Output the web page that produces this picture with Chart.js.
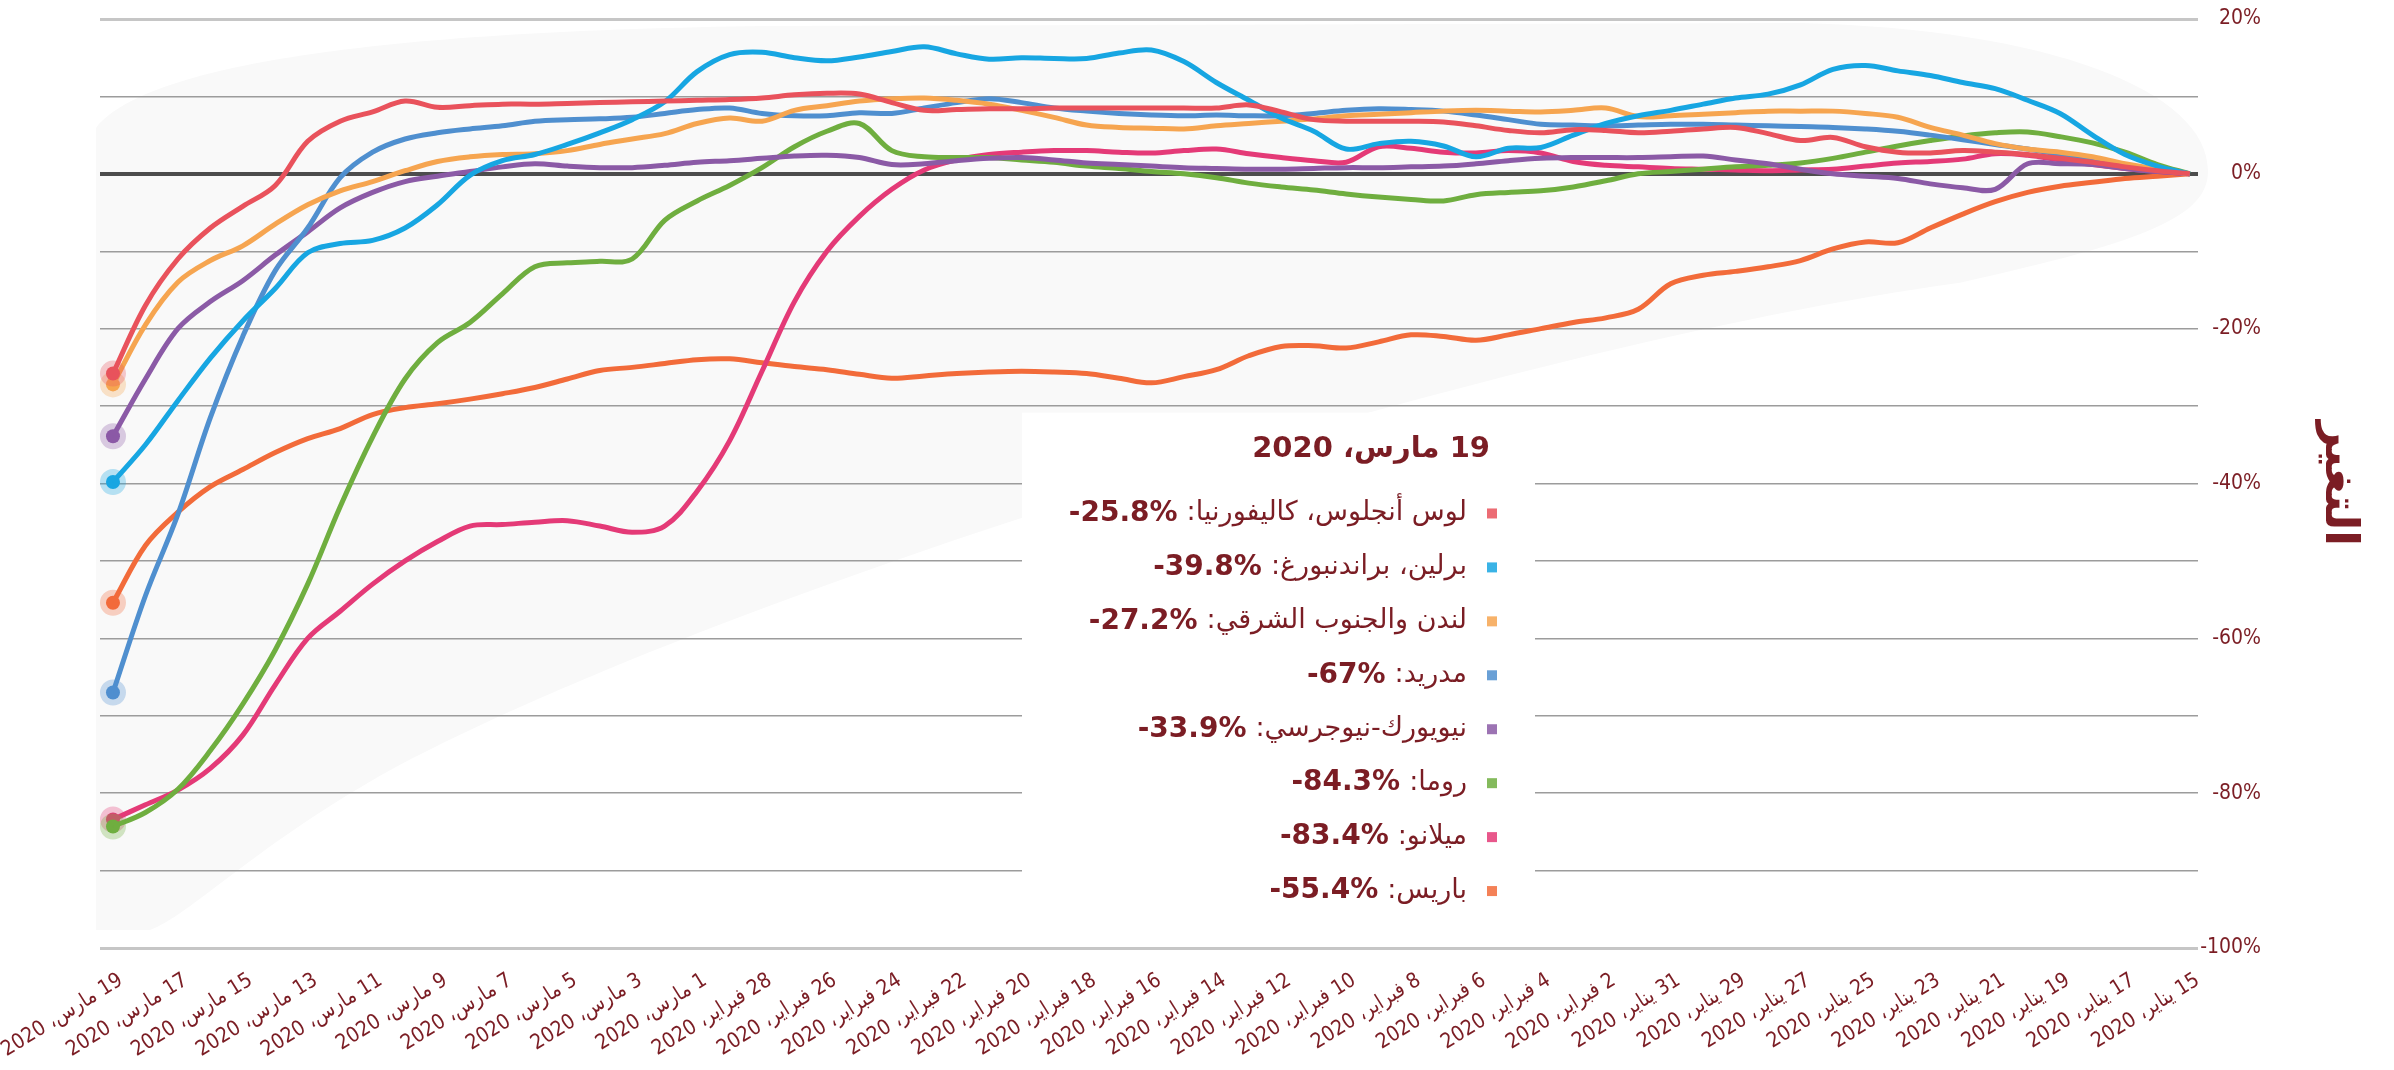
<!DOCTYPE html>
<html><head><meta charset="utf-8">
<script src="https://cdn.jsdelivr.net/npm/chart.js@4.4.1/dist/chart.umd.min.js"></script>
<style>html,body{margin:0;padding:0;background:#fff;}#wrap{width:2394px;height:1070px;}</style>
</head><body><div id="wrap"><canvas id="c" width="2394" height="1070"></canvas></div>
<script>
// Categories, left to right as drawn (19 March back to 15 January 2020)
const dates = [
 '19 مارس، 2020','18 مارس، 2020','17 مارس، 2020','16 مارس، 2020','15 مارس، 2020','14 مارس، 2020','13 مارس، 2020','12 مارس، 2020','11 مارس، 2020','10 مارس، 2020',
 '9 مارس، 2020','8 مارس، 2020','7 مارس، 2020','6 مارس، 2020','5 مارس، 2020','4 مارس، 2020','3 مارس، 2020','2 مارس، 2020','1 مارس، 2020',
 '29 فبراير، 2020','28 فبراير، 2020','27 فبراير، 2020','26 فبراير، 2020','25 فبراير، 2020','24 فبراير، 2020','23 فبراير، 2020','22 فبراير، 2020','21 فبراير، 2020','20 فبراير، 2020',
 '19 فبراير، 2020','18 فبراير، 2020','17 فبراير، 2020','16 فبراير، 2020','15 فبراير، 2020','14 فبراير، 2020','13 فبراير، 2020','12 فبراير، 2020','11 فبراير، 2020','10 فبراير، 2020',
 '9 فبراير، 2020','8 فبراير، 2020','7 فبراير، 2020','6 فبراير، 2020','5 فبراير، 2020','4 فبراير، 2020','3 فبراير، 2020','2 فبراير، 2020','1 فبراير، 2020',
 '31 يناير، 2020','30 يناير، 2020','29 يناير، 2020','28 يناير، 2020','27 يناير، 2020','26 يناير، 2020','25 يناير، 2020','24 يناير، 2020','23 يناير، 2020',
 '22 يناير، 2020','21 يناير، 2020','20 يناير، 2020','19 يناير، 2020','18 يناير، 2020','17 يناير، 2020','16 يناير، 2020','15 يناير، 2020'
];
const tickStep = 2;           // every second date is labelled
const yTickLabelStep = 20;    // y labels every 20%

const seriesNames = ['لوس أنجلوس، كاليفورنيا','برلين، براندنبورغ','لندن والجنوب الشرقي','مدريد','نيويورك-نيوجرسي','روما','ميلانو','باريس'];
const seriesColors = ['#e9525c','#17a6e2','#f6a550','#4f8fcf','#8b5aa6','#6fae3f','#e43a77','#f26b3a'];

const losAngeles = [-25.8,-17,-11,-7,-4.2,-1.5,4.2,6.8,8,9.4, 8.6,8.8,9,9,9.1,9.2,9.3,9.4,9.5,9.6, 9.8,10.2,10.4,10.3,9.2,8.2,8.3,8.4,8.4,8.5, 8.5,8.5,8.5,8.5,8.5,8.9,8,7,6.8,6.8, 6.8,6.7,6.2,5.6,5.3,5.7,5.6,5.3,5.5,5.8, 6,5.2,4.3,4.7,3.5,2.8,2.7,3,2.8,2.5, 2,1.5,0.9,0.4,0];
const berlin = [-39.8,-35,-29.3,-23.8,-19,-14.8,-10.2,-9,-8.6,-7, -4,-0.2,1.7,2.5,3.8,5.3,7,9.3,13.2,15.4, 15.7,15,14.6,15.1,15.8,16.4,15.5,14.8,15,14.9, 14.9,15.6,16,14.5,11.8,9.5,7.2,5.5,3.2,3.9, 4.2,3.6,2.2,3.3,3.4,5,6.5,7.5,8.2,9, 9.8,10.3,11.5,13.5,14,13.3,12.7,11.8,11,9.5, 7.8,5,2.5,1,0];
const london = [-27.2,-19.5,-14,-11.2,-9.3,-6.5,-4,-2.2,-1,0.4, 1.6,2.2,2.5,2.6,3,3.8,4.5,5.2,6.5,7.2, 6.8,8.2,8.8,9.4,9.7,9.8,9.5,9,8.2,7.3, 6.3,6,5.9,5.8,6.2,6.5,6.8,7.1,7.5,7.7, 7.9,8.1,8.2,8.1,8,8.2,8.5,7.4,7.5,7.7, 7.9,8.1,8.1,8.1,7.8,7.3,6,5,3.9,3.2, 2.8,2.2,1.3,0.6,0];
const madrid = [-67,-54.5,-44,-31.5,-21,-12.5,-7,-0.5,2.8,4.5, 5.3,5.8,6.2,6.8,7,7.1,7.3,7.8,8.3,8.5, 7.8,7.5,7.5,7.9,7.8,8.5,9.2,9.7,9.2,8.5, 8.1,7.8,7.6,7.5,7.6,7.5,7.5,7.8,8.2,8.4, 8.3,8.1,7.6,7,6.4,6.3,6.2,6.3,6.4,6.4, 6.3,6.2,6.1,6,5.8,5.5,5,4.4,3.8,3.2, 2.5,1.8,1,0.5,0];
const newYork = [-33.9,-26.5,-20,-16.5,-13.8,-10.5,-7.5,-4.4,-2.4,-1, -0.3,0.3,0.9,1.3,1,0.8,0.8,1.1,1.5,1.7, 2,2.3,2.4,2.1,1.2,1.3,1.7,2,2.1,1.8, 1.4,1.2,1,0.8,0.7,0.6,0.6,0.7,0.8,0.8, 0.9,1,1.3,1.7,2,2.1,2.1,2.1,2.2,2.3, 1.8,1.3,0.6,0,-0.3,-0.6,-1.3,-1.8,-2,1.3, 1.3,1.2,0.7,0.3,0];
const rome = [-84.3,-82.5,-79.5,-74.5,-68.5,-61.5,-53,-43,-34,-26.5, -21.8,-19.2,-15.5,-12,-11.5,-11.3,-11,-6,-3.5,-1.5, 0.8,3.5,5.5,6.5,3,2.2,2.1,2.1,1.8,1.5, 1,0.7,0.3,0,-0.5,-1.2,-1.7,-2.1,-2.6,-3, -3.3,-3.5,-2.7,-2.4,-2.2,-1.7,-0.9,0,0.3,0.6, 0.9,1.1,1.4,2,2.8,3.6,4.3,4.9,5.3,5.4, 4.8,4,2.8,1.2,0];
const milan = [-83.4,-81.5,-79.6,-76.8,-72.5,-66,-60,-56.5,-53,-50, -47.5,-45.5,-45.3,-45,-44.8,-45.5,-46.3,-45.5,-41,-34.5, -25.5,-16.5,-10,-5.5,-2,0.5,1.8,2.5,2.8,3, 3,2.8,2.7,3,3.2,2.6,2.1,1.7,1.5,3.5, 3.3,2.8,2.7,3,2.7,1.6,1.1,0.9,0.7,0.6, 0.5,0.4,0.5,0.6,1,1.4,1.6,1.9,2.6,2.4, 1.8,1.2,0.7,0.3,0];
const paris = [-55.4,-48,-43.7,-40.4,-38.2,-36,-34.2,-32.9,-31.1,-30.2, -29.7,-29.1,-28.4,-27.6,-26.5,-25.4,-25,-24.5,-24,-23.9, -24.4,-24.9,-25.3,-25.9,-26.4,-26.1,-25.8,-25.6,-25.5,-25.6, -25.8,-26.4,-27,-26.2,-25.3,-23.5,-22.3,-22.2,-22.5,-21.7, -20.8,-21,-21.5,-20.8,-20,-19.2,-18.6,-17.5,-14.2,-13.1, -12.6,-12,-11.2,-9.7,-8.8,-8.9,-7,-5.2,-3.6,-2.4, -1.6,-1.1,-0.6,-0.3,0];

const seriesData = [losAngeles, berlin, london, madrid, newYork, rome, milan, paris];
const axisTitle = 'التغير';

const TEXT = '#7b1d24';
const FONT = "'DejaVu Sans Condensed', 'DejaVu Sans', sans-serif";
const ARFONT = "'DejaVu Sans', sans-serif";
Chart.defaults.font.family = FONT;

function rgba(hex, a) {
  const n = parseInt(hex.slice(1), 16);
  return `rgba(${(n >> 16) & 255},${(n >> 8) & 255},${n & 255},${a})`;
}

// decorative layer: soft backdrop shape, legend panel and legend text
const decor = {
  id: 'decor',
  beforeDraw(chart) {
    const {ctx, chartArea: ca} = chart;
    const X = x => ca.left + (x - 100) / 2098 * (ca.right - ca.left);
    const Y = y => ca.top + (y - 18) / 930 * (ca.bottom - ca.top);
    ctx.save();
    ctx.fillStyle = '#f9f9f9';
    ctx.beginPath();
    ctx.moveTo(X(96), Y(930));
    ctx.lineTo(X(96), Y(127));
    ctx.bezierCurveTo(X(150), Y(60), X(400), Y(30), X(765), Y(25));
    ctx.lineTo(X(1800), Y(22));
    ctx.bezierCurveTo(X(2050), Y(28), X(2208), Y(90), X(2208), Y(170));
    ctx.bezierCurveTo(X(2208), Y(215), X(2150), Y(240), X(1960), Y(282));
    ctx.bezierCurveTo(X(1500), Y(345), X(700), Y(600), X(381), Y(775));
    ctx.bezierCurveTo(X(250), Y(850), X(190), Y(915), X(150), Y(930));
    ctx.closePath();
    ctx.fill();
    ctx.restore();
  },
  beforeDatasetsDraw(chart) {
    const {ctx, chartArea: ca} = chart;
    const X = x => ca.left + (x - 100) / 2098 * (ca.right - ca.left);
    const Y = y => ca.top + (y - 18) / 930 * (ca.bottom - ca.top);
    ctx.save();
    ctx.fillStyle = '#ffffff';
    ctx.fillRect(X(1022), Y(412), X(1535) - X(1022), Y(930) - Y(412));
    ctx.restore();
  },
  afterDatasetsDraw(chart) {
    const {ctx, chartArea: ca} = chart;
    const X = x => ca.left + (x - 100) / 2098 * (ca.right - ca.left);
    const Y = y => ca.top + (y - 18) / 930 * (ca.bottom - ca.top);
    ctx.save();
    ctx.textBaseline = 'middle';
    ctx.textAlign = 'right';
    ctx.fillStyle = TEXT;
    ctx.direction = 'rtl';
    ctx.font = 'bold 29px ' + ARFONT;
    ctx.fillText(dates[0], X(1490), Y(449));
    seriesNames.forEach((name, i) => {
      const y = Y(513 + 54 * i);
      ctx.fillStyle = rgba(seriesColors[i], 0.85);
      ctx.fillRect(X(1492) - 5, y - 5, 10, 10);
      ctx.fillStyle = TEXT;
      ctx.direction = 'rtl';
      ctx.font = '27px ' + ARFONT;
      const label = name + ':';
      ctx.fillText(label, X(1467), y);
      const w = ctx.measureText(label).width;
      ctx.direction = 'ltr';
      ctx.font = 'bold 28px ' + ARFONT;
      ctx.fillText(seriesData[i][0] + '%', X(1467) - w - 9, y);
    });
    ctx.restore();
  }
};

const tickValues = dates.map((_, i) => i).filter(i => i % tickStep === 0);

new Chart(document.getElementById('c'), {
  type: 'line',
  data: {
    datasets: seriesData.map((s, i) => ({
      label: seriesNames[i],
      data: s.map((v, d) => ({x: d, y: v})),
      borderColor: seriesColors[i],
      backgroundColor: seriesColors[i],
      borderWidth: 5,
      tension: 0.35,
      fill: false,
      clip: false,
      pointRadius: c => c.dataIndex === 0 ? 7 : 0,
      pointBorderWidth: 12,
      pointBorderColor: rgba(seriesColors[i], 0.3),
      pointBackgroundColor: seriesColors[i]
    }))
  },
  options: {
    responsive: false,
    animation: false,
    devicePixelRatio: 1,
    events: [],
    layout: {padding: {left: 100, right: 133, top: 18, bottom: 0}},
    plugins: {legend: {display: false}, tooltip: {enabled: false}},
    scales: {
      x: {
        type: 'linear',
        min: -0.4,
        max: 64.25,
        grid: {display: false, drawTicks: false},
        border: {display: false},
        afterBuildTicks: s => { s.ticks = tickValues.map(v => ({value: v})); },
        afterFit: s => { s.height = 122; s.paddingLeft = 0; s.paddingRight = 0; },
        ticks: {
          autoSkip: false, minRotation: 32, maxRotation: 32, padding: 20, labelOffset: 8,
          color: TEXT, font: {size: 21},
          callback: v => '\u202B' + dates[v] + '\u202C'
        }
      },
      y: {
        position: 'right',
        min: -100,
        max: 20,
        afterFit: s => { s.width = 63; },
        border: {display: false},
        grid: {
          drawTicks: false,
          color: c => c.tick.value === 0 ? '#4d4d4d' : (c.tick.value === 20 || c.tick.value === -100 ? '#c6c6c6' : '#9c9c9c'),
          lineWidth: c => c.tick.value === 0 ? 4 : (c.tick.value === 20 || c.tick.value === -100 ? 3 : 1.5)
        },
        ticks: {
          stepSize: 10, padding: 6, crossAlign: 'far', color: TEXT, font: {size: 21},
          callback: v => v % yTickLabelStep === 0 ? v + '%' : ''
        },
        title: {
          display: true, text: axisTitle, color: TEXT,
          font: {size: 46, weight: 'bold', family: ARFONT},
          padding: {top: -104.6, bottom: 0}
        }
      }
    }
  },
  plugins: [decor]
});
</script>
</body></html>
